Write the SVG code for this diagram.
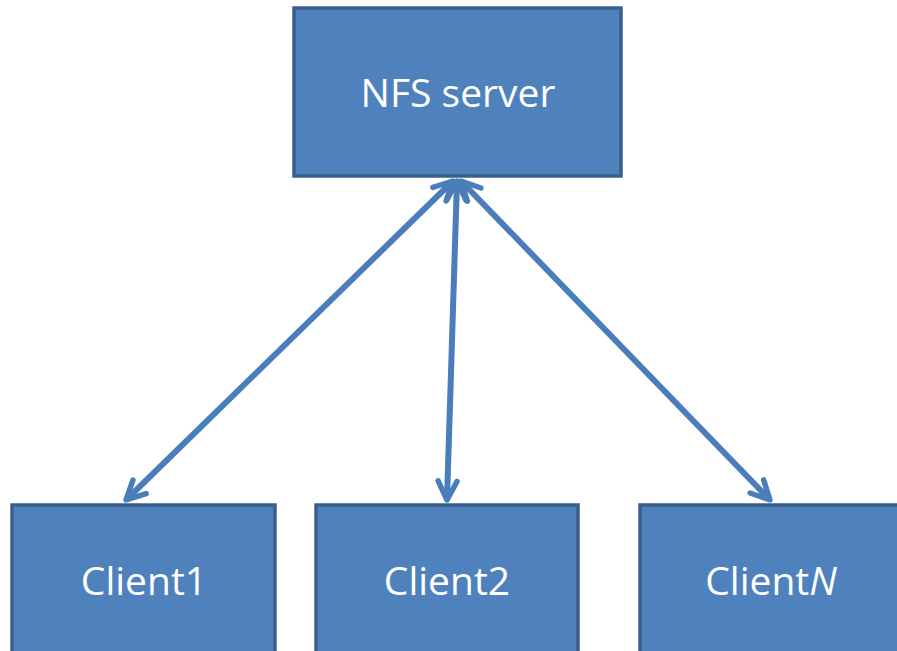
<svg xmlns="http://www.w3.org/2000/svg" width="897" height="651" viewBox="0 0 897 651">
<style>
.box{fill:#4f81bd;stroke:#3b5f8b;stroke-width:3.5}
.lbl{font-family:"Open Sans","Liberation Sans",sans-serif;font-size:39px;fill:#ffffff;text-anchor:middle}
.conn{stroke:#4a7ebb;stroke-width:6;fill:none;marker-start:url(#ah);marker-end:url(#ah)}
</style>
<defs>
<marker id="ah" viewBox="0 0 12 12" refX="10.5" refY="6" markerWidth="4.2" markerHeight="4.2" orient="auto-start-reverse" markerUnits="strokeWidth">
<path d="M1.5,1.5 L10.5,6 L1.5,10.5" fill="none" stroke="#4a7ebb" stroke-width="2.6" stroke-linecap="round" stroke-linejoin="round"/>
</marker>
</defs>
<rect width="897" height="651" fill="#ffffff"/>
<g id="connectors">
<line class="conn" x1="453" y1="181" x2="126" y2="500"/>
<line class="conn" x1="457" y1="181" x2="447" y2="500"/>
<line class="conn" x1="461" y1="181" x2="770" y2="500"/>
</g>
<g id="nfs-server">
<rect class="box" x="294" y="8" width="327" height="168"/>
<text class="lbl" x="458" y="107">NFS server</text>
</g>
<g id="client1">
<rect class="box" x="12" y="505" width="263" height="160"/>
<text class="lbl" x="144" y="595">Client1</text>
</g>
<g id="client2">
<rect class="box" x="316" y="505" width="262" height="160"/>
<text class="lbl" x="447" y="595">Client2</text>
</g>
<g id="clientN">
<rect class="box" x="640" y="505" width="263" height="160"/>
<text class="lbl" x="771" y="595">Client<tspan font-style="italic">N</tspan></text>
</g>
</svg>
